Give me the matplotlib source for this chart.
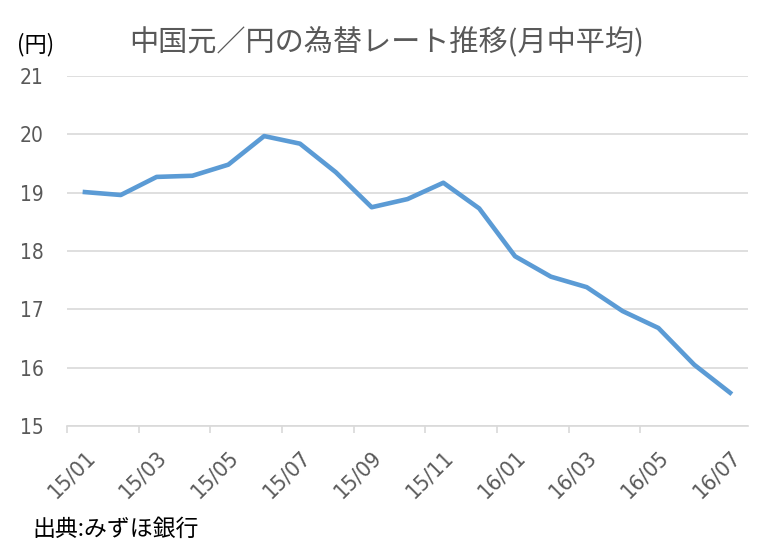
import matplotlib
matplotlib.use("Agg")
from matplotlib import pyplot as plt
from matplotlib.ticker import FixedLocator, NullFormatter

# Monthly average CNY/JPY rate, Jan 2015 - Jul 2016
MONTHS = ["15/01", "15/02", "15/03", "15/04", "15/05", "15/06", "15/07",
          "15/08", "15/09", "15/10", "15/11", "15/12", "16/01", "16/02",
          "16/03", "16/04", "16/05", "16/06", "16/07"]
RATES = [19.01, 18.96, 19.27, 19.29, 19.48, 19.97, 19.84, 19.35, 18.75,
         18.89, 19.17, 18.73, 17.91, 17.56, 17.38, 16.97, 16.68, 16.05, 15.57]
Y_TICKS = [15, 16, 17, 18, 19, 20, 21]

TEXT_GRAY = "#595959"
LINE_BLUE = "#5B9BD5"
GRID_GRAY = "#D9D9D9"
NARROW = ["DejaVu Sans"]

plt.rcParams["font.family"] = ["Noto Sans CJK JP", "DejaVu Sans"]

fig = plt.figure(figsize=(7.71, 5.54), dpi=100)
ax = fig.add_axes([67 / 771, 1 - 426 / 554, 681 / 771, 350 / 554])

xs = list(range(len(MONTHS)))
ax.plot(xs, RATES, color=LINE_BLUE, linewidth=3.3)

ax.set_xlim(-0.5, len(MONTHS) - 0.5)
ax.set_ylim(Y_TICKS[0], Y_TICKS[-1])
ax.set_yticks(Y_TICKS)
ax.yaxis.grid(True, color=GRID_GRAY, linewidth=1.2)
ax.set_axisbelow(True)

# tick marks between categories, labels every other month
ax.xaxis.set_major_locator(FixedLocator([i - 0.5 for i in xs[::2] if i < len(MONTHS) - 1]))
ax.xaxis.set_major_formatter(NullFormatter())
ax.xaxis.set_minor_locator(FixedLocator(xs[::2]))
ax.set_xticklabels([MONTHS[i] for i in xs[::2]], minor=True)
ax.tick_params(axis="x", which="major", length=5, width=1.2, color=GRID_GRAY)
ax.tick_params(axis="x", which="minor", length=0, pad=15, labelsize=16,
               labelcolor=TEXT_GRAY)
for lbl in ax.get_xticklabels(minor=True):
    lbl.set_rotation(45)
    lbl.set_ha("right")
    lbl.set_rotation_mode("anchor")
    lbl.set_fontfamily(NARROW)
    lbl.set_fontstretch("condensed")
ax.tick_params(axis="y", length=0, pad=17, labelsize=15, labelcolor=TEXT_GRAY)
for lbl in ax.get_yticklabels():
    lbl.set_fontfamily(NARROW)
    lbl.set_fontstretch("condensed")

for side in ["top", "right", "left"]:
    ax.spines[side].set_visible(False)
ax.spines["bottom"].set_color(GRID_GRAY)
ax.spines["bottom"].set_linewidth(1.2)

fig.text(387 / 771, 1 - 42 / 554, "中国元／円の為替レート推移(月中平均)",
         ha="center", va="center", fontsize=21, color=TEXT_GRAY)
fig.text(17 / 771, 1 - 45 / 554, "(円)", ha="left", va="center",
         fontsize=16, color="black")
fig.text(32 / 771, 1 - 529 / 554, "出典:みずほ銀行", ha="left", va="center",
         fontsize=16.5, color="black")

fig.savefig("out.png", dpi=100)
